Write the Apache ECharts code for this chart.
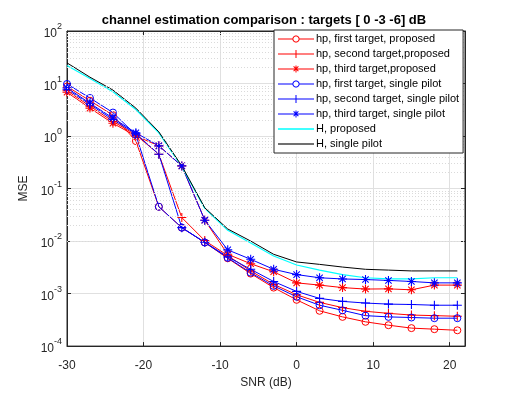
<!DOCTYPE html>
<html>
<head>
<meta charset="utf-8">
<script src="https://cdn.jsdelivr.net/npm/echarts@6/dist/echarts.min.js"></script>
<style>
  html, body { margin: 0; padding: 0; background: #fff; }
  #chart { width: 514px; height: 394px; }
</style>
</head>
<body>
<div id="chart"></div>
<script>
// SNR points (dB)
const snr = [-30, -27, -24, -21, -18, -15, -12, -9, -6, -3, 0, 3, 6, 9, 12, 15, 18, 21];

// hp MSE, proposed
const hpFirstProposed  = [8.8, 4.7, 2.5, 0.8, 0.045, 0.018, 0.0094, 0.0047, 0.0024, 0.0013, 0.00076, 0.00047, 0.00036, 0.00029, 0.00025, 0.00022, 0.00021, 0.0002];
const hpSecondProposed = [7.3, 3.7, 1.9, 1.05, 0.45, 0.028, 0.0102, 0.0053, 0.0027, 0.0015, 0.00095, 0.00068, 0.00054, 0.00046, 0.00042, 0.00039, 0.00038, 0.00037];
const hpThirdProposed  = [6.8, 3.4, 1.75, 1.0, 0.65, 0.27, 0.025, 0.0056, 0.0037, 0.0026, 0.0016, 0.00145, 0.0013, 0.00122, 0.00123, 0.00118, 0.00145, 0.00145];

// hp MSE, single pilot
const hpFirstSingle  = [9.8, 5.3, 2.8, 1.05, 0.045, 0.018, 0.0094, 0.0048, 0.0025, 0.0014, 0.00087, 0.0006, 0.00048, 0.00038, 0.00036, 0.00035, 0.00034, 0.00034];
const hpSecondSingle = [7.8, 4.0, 2.05, 1.1, 0.45, 0.018, 0.0095, 0.005, 0.0029, 0.0017, 0.0011, 0.00081, 0.00071, 0.00066, 0.00063, 0.00062, 0.0006, 0.0006];
const hpThirdSingle  = [8.3, 4.2, 2.2, 1.15, 0.65, 0.27, 0.025, 0.0068, 0.0045, 0.0029, 0.0023, 0.002, 0.0019, 0.00185, 0.00178, 0.0017, 0.0016, 0.0016];

// H MSE
const hProposed = [22, 12.5, 7.0, 3.2, 1.15, 0.26, 0.042, 0.016, 0.0092, 0.0052, 0.0035, 0.0028, 0.0023, 0.002, 0.0019, 0.0019, 0.002, 0.002];
const hSingle   = [24.7, 13.2, 7.5, 3.4, 1.2, 0.27, 0.043, 0.017, 0.01, 0.0056, 0.004, 0.0036, 0.0032, 0.0029, 0.0028, 0.0027, 0.0027, 0.0027];

const legendNames = [
    'hp, first target, proposed',
    'hp, second target,proposed',
    'hp, third target,proposed',
    'hp, first target, single pilot',
    'hp, second target, single pilot',
    'hp, third target, single pilot',
    'H, proposed',
    'H, single pilot'
];

// marker shapes (matlab style + and *)
const plusPath = 'path://M-0.12,-1L0.12,-1L0.12,-0.12L1,-0.12L1,0.12L0.12,0.12L0.12,1L-0.12,1L-0.12,0.12L-1,0.12L-1,-0.12L-0.12,-0.12Z';
const starPath = 'path://M-0.12,-1L0.12,-1L0.12,1L-0.12,1Z' +
    'M-1,-0.12L1,-0.12L1,0.12L-1,0.12Z' +
    'M-0.79,-0.62L-0.62,-0.79L0.79,0.62L0.62,0.79Z' +
    'M0.62,-0.79L0.79,-0.62L-0.62,0.79L-0.79,0.62Z';

// legend icons: line with marker, 36px wide
function ringPart(r, reverse) {
    const pts = [];
    for (let i = 0; i < 24; i++) {
        const a = (reverse ? -1 : 1) * i / 24 * Math.PI * 2;
        pts.push((18 + r * Math.cos(a)).toFixed(2) + ',' + (r * Math.sin(a)).toFixed(2));
    }
    return 'M' + pts.join('L') + 'Z';
}
const barL = 'M0,-0.5L36,-0.5L36,0.5L0,0.5Z';
const iconLine = 'path://M0,-0.8L36,-0.8L36,0.8L0,0.8Z';
const iconCircle = 'path://M0,-0.5L14.4,-0.5L14.4,0.5L0,0.5Z' +
    'M21.6,-0.5L36,-0.5L36,0.5L21.6,0.5Z' +
    ringPart(3.6, false) + ringPart(2.6, true);
const iconPlus = 'path://' + barL + 'M17.5,-4L18.5,-4L18.5,4L17.5,4Z';
const iconStar = 'path://' + barL + 'M17.5,-3.6L18.5,-3.6L18.5,3.6L17.5,3.6Z' +
    'M15.25,-2.25L15.95,-2.95L20.75,1.85L20.05,2.55Z' +
    'M15.25,1.85L20.05,-2.95L20.75,-2.25L15.95,2.55Z';

// minor grid values 2..9 per decade
const minorGrid = [];
for (let e = -4; e < 2; e++) {
    for (let k = 2; k < 10; k++) {
        minorGrid.push(k * Math.pow(10, e));
    }
}

function pairs(arr) {
    return snr.map((x, i) => [x, arr[i]]);
}

function hpSeries(name, arr, color, marker) {
    const s = {
        name: name,
        type: 'line',
        data: pairs(arr),
        lineStyle: { color: color, width: 1 },
        emphasis: { disabled: true },
        z: 3
    };
    if (marker === 'circle') {
        s.symbol = 'circle';
        s.symbolSize = 7;
        s.itemStyle = { color: 'transparent', borderColor: color, borderWidth: 1 };
    } else if (marker === 'plus') {
        s.symbol = plusPath;
        s.symbolSize = 9;
        s.itemStyle = { color: color, borderWidth: 0 };
    } else {
        s.symbol = starPath;
        s.symbolSize = 9;
        s.itemStyle = { color: color, borderWidth: 0 };
    }
    return s;
}

const legendColors = ['#ff0000', '#ff0000', '#ff0000', '#0000ff', '#0000ff', '#0000ff', '#00ffff', '#404040'];
const legendIcons = [iconCircle, iconPlus, iconStar, iconCircle, iconPlus, iconStar, iconLine, iconLine];

const axisColor = '#262626';

const chart = echarts.init(document.getElementById('chart'));

const option = {
    backgroundColor: '#fff',
    animation: false,
    textStyle: { fontFamily: 'Liberation Sans, Arial, sans-serif' },
    title: {
        text: 'channel estimation comparison : targets [ 0 -3 -6] dB',
        left: 259,
        textAlign: 'center',
        top: 9,
        textStyle: { fontSize: 13, fontWeight: 'bold', color: '#000' }
    },
    grid: {
        left: 67, right: 49, top: 31, bottom: 44,
        show: true, borderColor: axisColor, borderWidth: 1,
        containLabel: false
    },
    legend: {
        data: legendNames.map((n, i) => ({
            name: n,
            icon: legendIcons[i],
            itemStyle: { color: legendColors[i], borderWidth: 0, borderType: 'solid' }
        })),
        orient: 'vertical',
        left: 274,
        top: 30,
        z: 20,
        padding: [3, 4, 3, 4],
        itemWidth: 36,
        itemHeight: 12,
        itemGap: 3,
        backgroundColor: '#fff',
        borderColor: axisColor,
        borderWidth: 1,
        textStyle: { fontSize: 11, color: '#000', lineHeight: 12, padding: [0, 0, 0, -3] },
        selectedMode: false
    },
    xAxis: [{
        type: 'value',
        min: -30,
        max: 22,
        interval: 10,
        name: 'SNR (dB)',
        nameLocation: 'middle',
        nameGap: 27,
        nameTextStyle: { fontSize: 12, color: axisColor },
        axisLine: { onZero: false, lineStyle: { color: axisColor } },
        axisTick: { inside: true, length: 4, lineStyle: { color: axisColor } },
        axisLabel: { fontSize: 12, color: axisColor, margin: 14, showMaxLabel: false },
        splitLine: { show: true, lineStyle: { color: '#e0e0e0', width: 1 } }
    }, {
        // top box edge ticks
        type: 'value',
        position: 'top',
        min: -30,
        max: 22,
        interval: 10,
        axisLine: { onZero: false, lineStyle: { color: axisColor } },
        axisTick: { inside: true, length: 4, lineStyle: { color: axisColor } },
        axisLabel: { show: false },
        splitLine: { show: false }
    }],
    yAxis: [{
        type: 'log',
        logBase: 10,
        min: 1e-4,
        max: 1e2,
        name: 'MSE',
        nameLocation: 'middle',
        nameGap: 34,
        nameTextStyle: { fontSize: 12, color: axisColor },
        axisLine: { onZero: false, lineStyle: { color: axisColor } },
        axisTick: { inside: true, length: 4, lineStyle: { color: axisColor } },
        axisLabel: {
            margin: 5,
            formatter: function (v) {
                const e = Math.round(Math.log10(v));
                return '{b|10}{sup|' + e + '}';
            },
            rich: {
                b: { fontSize: 12, color: axisColor, verticalAlign: 'bottom', lineHeight: 18 },
                sup: { fontSize: 9, color: axisColor, verticalAlign: 'top', lineHeight: 18 }
            }
        },
        splitLine: { show: true, lineStyle: { color: '#e0e0e0', width: 1 } }
    }, {
        // right box edge ticks
        type: 'log',
        logBase: 10,
        position: 'right',
        min: 1e-4,
        max: 1e2,
        axisLine: { onZero: false, lineStyle: { color: axisColor } },
        axisTick: { inside: true, length: 4, lineStyle: { color: axisColor } },
        axisLabel: { show: false },
        splitLine: { show: false }
    }],
    series: [
        {
            name: 'minor grid',
            type: 'line',
            data: [],
            silent: true,
            z: 1,
            markLine: {
                silent: true,
                symbol: 'none',
                label: { show: false },
                lineStyle: { color: '#dadada', type: [1, 2], width: 1 },
                data: minorGrid.map(v => ({ yAxis: v }))
            }
        },
        hpSeries(legendNames[0], hpFirstProposed, '#ff0000', 'circle'),
        hpSeries(legendNames[1], hpSecondProposed, '#ff0000', 'plus'),
        hpSeries(legendNames[2], hpThirdProposed, '#ff0000', 'star'),
        hpSeries(legendNames[3], hpFirstSingle, '#0000ff', 'circle'),
        hpSeries(legendNames[4], hpSecondSingle, '#0000ff', 'plus'),
        hpSeries(legendNames[5], hpThirdSingle, '#0000ff', 'star'),
        {
            name: legendNames[6],
            type: 'line',
            data: pairs(hProposed),
            symbol: 'none',
            lineStyle: { color: '#00ffff', width: 1.2 },
            itemStyle: { color: '#00ffff' },
            emphasis: { disabled: true },
            z: 3
        },
        {
            name: legendNames[7],
            type: 'line',
            data: pairs(hSingle),
            symbol: 'none',
            lineStyle: { color: '#000000', width: 1 },
            itemStyle: { color: '#000000' },
            emphasis: { disabled: true },
            z: 3
        }
    ]
};

chart.setOption(option);
</script>
</body>
</html>
